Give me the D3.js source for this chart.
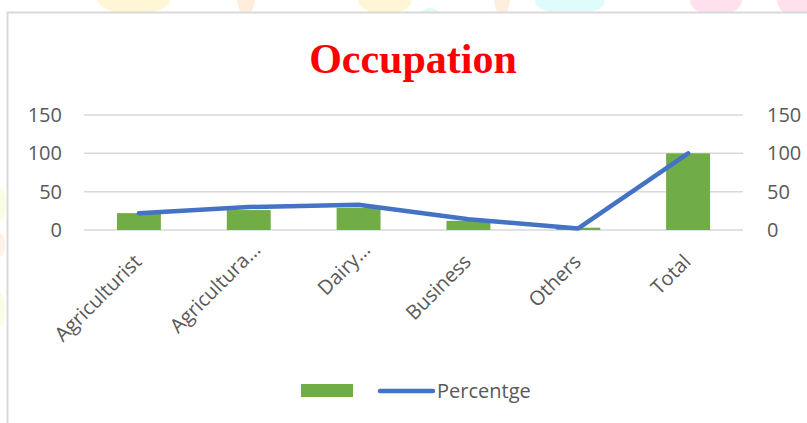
<!DOCTYPE html>
<html>
<head>
<meta charset="utf-8">
<script src="https://cdn.jsdelivr.net/npm/d3@7"></script>
<style>
  body { margin: 0; background: #fff; }
</style>
</head>
<body>
<div id="chart"></div>
<script>
// data
const categories = ["Agriculturist", "Agricultura…", "Dairy…", "Business", "Others", "Total"];
const barValues = [22, 26, 29, 12, 3, 100];
const percentge = [22, 30, 33, 14, 2, 100];
const yTicks = [0, 50, 100, 150];

const w = 807;
const h = 423;
const svg = d3.select("#chart").append("svg")
    .attr("width", w)
    .attr("height", h)
    .style("font-family", "'Open Sans', sans-serif");

// faint watermark blobs behind the chart frame
const blobs = [
  {x: 134, y: 0, rx: 36, ry: 14, c: "#fff6d6"},
  {x: 246, y: 0, rx: 9, ry: 14, c: "#ffeedd"},
  {x: 385, y: 0, rx: 27, ry: 14, c: "#fff6d6"},
  {x: 430, y: 12, rx: 8, ry: 4, c: "#e0fbfb"},
  {x: 502, y: 0, rx: 8, ry: 14, c: "#ffeedd"},
  {x: 570, y: 2, rx: 35, ry: 12, c: "#e0fbfb"},
  {x: 716, y: 0, rx: 26, ry: 16, c: "#ffe0ef"},
  {x: 795, y: 0, rx: 18, ry: 16, c: "#ffe0ef"},
  {x: 0, y: 204, rx: 6, ry: 16, c: "#fafde4"},
  {x: 0, y: 245, rx: 5, ry: 12, c: "#fff0e8"},
  {x: 0, y: 310, rx: 5, ry: 17, c: "#fafde4"}
];
svg.selectAll("ellipse.blob")
    .data(blobs)
    .enter()
    .append("ellipse")
    .attr("class", "blob")
    .attr("cx", d => d.x)
    .attr("cy", d => d.y)
    .attr("rx", d => d.rx)
    .attr("ry", d => d.ry)
    .style("fill", d => d.c);

// chart area frame
svg.append("rect")
    .attr("x", 7.5)
    .attr("y", 12.5)
    .attr("width", 820)
    .attr("height", 430)
    .style("fill", "#fff")
    .style("stroke", "#d9d9d9")
    .style("stroke-width", 2);

// title
svg.append("text")
    .attr("x", 413)
    .attr("y", 73)
    .attr("text-anchor", "middle")
    .text("Occupation")
    .style("font-family", "'Liberation Serif', 'Times New Roman', serif")
    .style("font-weight", "bold")
    .style("font-size", "42px")
    .style("fill", "#ff0000");

// scales
const x = d3.scaleBand()
    .domain(categories)
    .range([84, 743])
    .paddingInner(0.6)
    .paddingOuter(0.3);

const y = d3.scaleLinear()
    .domain([0, 150])
    .range([230, 115]);

// gridlines
svg.selectAll("line.grid")
    .data(yTicks)
    .enter()
    .append("line")
    .attr("class", "grid")
    .attr("x1", 84)
    .attr("x2", 743)
    .attr("y1", d => y(d))
    .attr("y2", d => y(d))
    .style("stroke", "#d9d9d9")
    .style("stroke-width", 1.5);

// left and right axes
const leftAxis = svg.append("g")
    .attr("transform", "translate(62,0)")
    .call(d3.axisLeft(y).tickValues(yTicks).tickSize(0).tickPadding(0));
const rightAxis = svg.append("g")
    .attr("transform", "translate(767,0)")
    .call(d3.axisRight(y).tickValues(yTicks).tickSize(0).tickPadding(0));

[leftAxis, rightAxis].forEach(a => {
  a.select(".domain").remove();
  a.selectAll("text")
      .style("font-family", "'Open Sans', sans-serif")
      .style("font-size", "20px")
      .style("fill", "#595959");
});

// bars
svg.selectAll("rect.bar")
    .data(barValues)
    .enter()
    .append("rect")
    .attr("class", "bar")
    .attr("x", (d, i) => x(categories[i]))
    .attr("y", d => y(d))
    .attr("width", x.bandwidth())
    .attr("height", d => y(0) - y(d))
    .style("fill", "#70ad47");

// percentage line
const line = d3.line()
    .x((d, i) => x(categories[i]) + x.bandwidth() / 2)
    .y(d => y(d));

svg.append("path")
    .datum(percentge)
    .attr("d", line)
    .style("fill", "none")
    .style("stroke", "#4472c4")
    .style("stroke-width", 4.5)
    .style("stroke-linecap", "round")
    .style("stroke-linejoin", "round");

// category labels (truncated ones sit a bit higher, like Excel does)
svg.selectAll("text.cat")
    .data(categories)
    .enter()
    .append("text")
    .attr("class", "cat")
    .attr("transform", d => {
        const cut = d.endsWith("…");
        const cx = x(d) + x.bandwidth() / 2 - 1 + (cut ? 9 : 0);
        const cy = cut ? 246 : 258;
        return "translate(" + cx + "," + cy + ") rotate(-45)";
    })
    .attr("text-anchor", "end")
    .attr("dy", "0.35em")
    .text(d => d)
    .style("font-size", "20px")
    .style("fill", "#595959");

// legend
const legend = svg.append("g");
legend.append("rect")
    .attr("x", 301)
    .attr("y", 384)
    .attr("width", 52)
    .attr("height", 13)
    .style("fill", "#70ad47");
legend.append("line")
    .attr("x1", 380)
    .attr("x2", 433)
    .attr("y1", 391)
    .attr("y2", 391)
    .style("stroke", "#4472c4")
    .style("stroke-width", 4.5)
    .style("stroke-linecap", "round");
legend.append("text")
    .attr("x", 437)
    .attr("y", 398)
    .text("Percentge")
    .style("font-size", "20px")
    .style("fill", "#595959");
</script>
</body>
</html>
